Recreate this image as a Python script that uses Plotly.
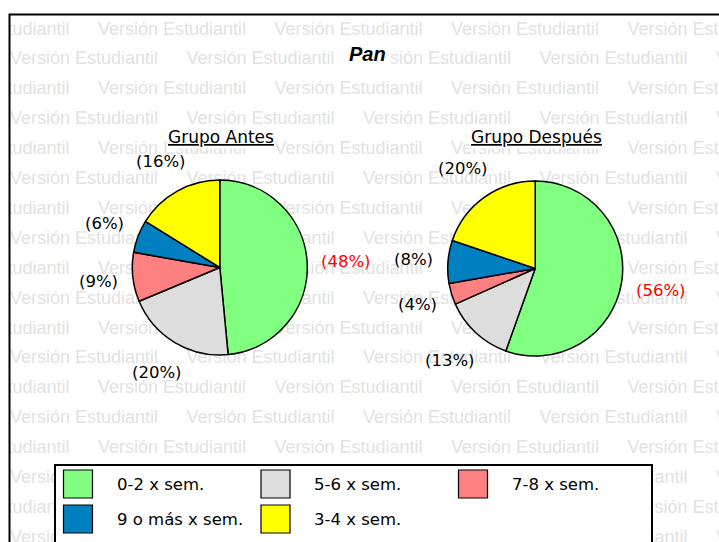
import math
import plotly.graph_objects as go

# ---- data ----
categories = ["0-2 x sem.", "5-6 x sem.", "7-8 x sem.", "9 o más x sem.", "3-4 x sem."]
colors = ["#80FF80", "#DDDDDD", "#FF8080", "#0080C0", "#FFFF00"]
antes = [48, 20, 9, 6, 16]
despues = [56, 13, 4, 8, 20]
label_colors = ["#FF0000", "#000000", "#000000", "#000000", "#000000"]
chart_title = "Pan"
subtitles = ["Grupo Antes", "Grupo Después"]
watermark = "Versión Estudiantil"

W, H = 719, 542
FONT = "DejaVu Sans"
LAB_SIZE = 16.5

fig = go.Figure()

# ---- watermark (clipped to the frame by the hidden axes) ----
wm_x, wm_y = [], []
for k in range(18):
    yy = 30 + 29.9 * k
    x0 = 10 if k % 2 else -78.5
    for j in range(6):
        xx = x0 + 176.5 * j
        if xx < W:
            wm_x.append(xx)
            wm_y.append(yy)
fig.add_trace(go.Scatter(
    x=wm_x, y=wm_y, mode="text", text=[watermark] * len(wm_x),
    textposition="middle right", cliponaxis=True,
    textfont=dict(family="Liberation Sans", size=18, color="#E2E2E2"),
    hoverinfo="skip", showlegend=False))

# ---- pies ----
pie_centers = [(219.8, 267.5), (535.2, 268.5)]
r_pie = 87.5
gap = 14


def dom(cx, cy, rad):
    return dict(x=[(cx - rad) / W, (cx + rad) / W],
                y=[(H - cy - rad) / H, (H - cy + rad) / H])


annotations = []
shapes = []

for vals, (cx, cy) in zip([antes, despues], pie_centers):
    fig.add_trace(go.Pie(
        labels=categories, values=vals, sort=False, direction="clockwise",
        rotation=0, domain=dom(cx, cy, r_pie),
        marker=dict(colors=colors, line=dict(color="black", width=1.5)),
        textinfo="none", hoverinfo="skip", showlegend=False))
    # percentage labels placed outside, at each slice's mid-angle
    total = sum(vals)
    cum = 0
    for v, lc in zip(vals, label_colors):
        theta = math.radians(360 * (cum + v / 2) / total)
        cum += v
        txt = f"({v}%)"
        w = LAB_SIZE * (0.39 * 2 + 0.95 + 0.636 * len(str(v)))
        h = LAB_SIZE * 1.15
        half = abs(math.sin(theta)) * w / 2 + abs(math.cos(theta)) * h / 2
        d = r_pie + gap + half
        annotations.append(dict(
            x=cx + d * math.sin(theta), y=cy - d * math.cos(theta),
            xref="x", yref="y", text=txt, showarrow=False,
            xanchor="center", yanchor="middle",
            font=dict(family=FONT, size=LAB_SIZE, color=lc)))

# title
annotations.append(dict(
    x=367, y=54, xref="x", yref="y", text=f"<b><i>{chart_title}</i></b>",
    showarrow=False, bgcolor="white", borderpad=1,
    font=dict(family="Liberation Sans", size=20, color="black")))

# subtitles
for st, (cx, cy) in zip(subtitles, pie_centers):
    annotations.append(dict(
        x=cx + 0.8, y=137, xref="x", yref="y", text=f"<u>{st}</u>",
        showarrow=False, bgcolor="white", borderpad=1,
        font=dict(family=FONT, size=17, color="black")))

# frame
shapes.append(dict(type="rect", xref="paper", yref="paper",
                   x0=9.5 / W, x1=1.05, y0=-0.05, y1=1 - 14.5 / H,
                   line=dict(color="black", width=2), layer="above"))

# legend box (manual, to get large swatches)
shapes.append(dict(type="rect", xref="x", yref="y",
                   x0=55, x1=652, y0=465, y1=570,
                   fillcolor="white", line=dict(color="black", width=2),
                   layer="above"))
col_x = [63.5, 261, 458.5]
row_y = [484, 519]
for i, (cat, col) in enumerate(zip(categories, colors)):
    sx = col_x[i % 3]
    sy = row_y[i // 3]
    shapes.append(dict(type="rect", xref="x", yref="y",
                       x0=sx, x1=sx + 29, y0=sy - 14, y1=sy + 14,
                       fillcolor=col, line=dict(color="black", width=1.2),
                       layer="above"))
    annotations.append(dict(
        x=sx + 51, y=sy, xref="x", yref="y", text=cat, showarrow=False,
        xanchor="left", yanchor="middle",
        font=dict(family=FONT, size=16.5, color="black")))

fig.update_layout(
    width=W, height=H, margin=dict(l=0, r=0, t=0, b=0),
    paper_bgcolor="white", plot_bgcolor="rgba(0,0,0,0)",
    showlegend=False, hovermode=False,
    xaxis=dict(domain=[10 / W, 1], range=[10, W], visible=False, fixedrange=True),
    yaxis=dict(domain=[0, 1 - 15 / H], range=[H, 15], visible=False, fixedrange=True),
    annotations=annotations, shapes=shapes,
)

fig.write_html("out.html", config={"displayModeBar": False},
               post_script="document.body.style.margin='0';")
